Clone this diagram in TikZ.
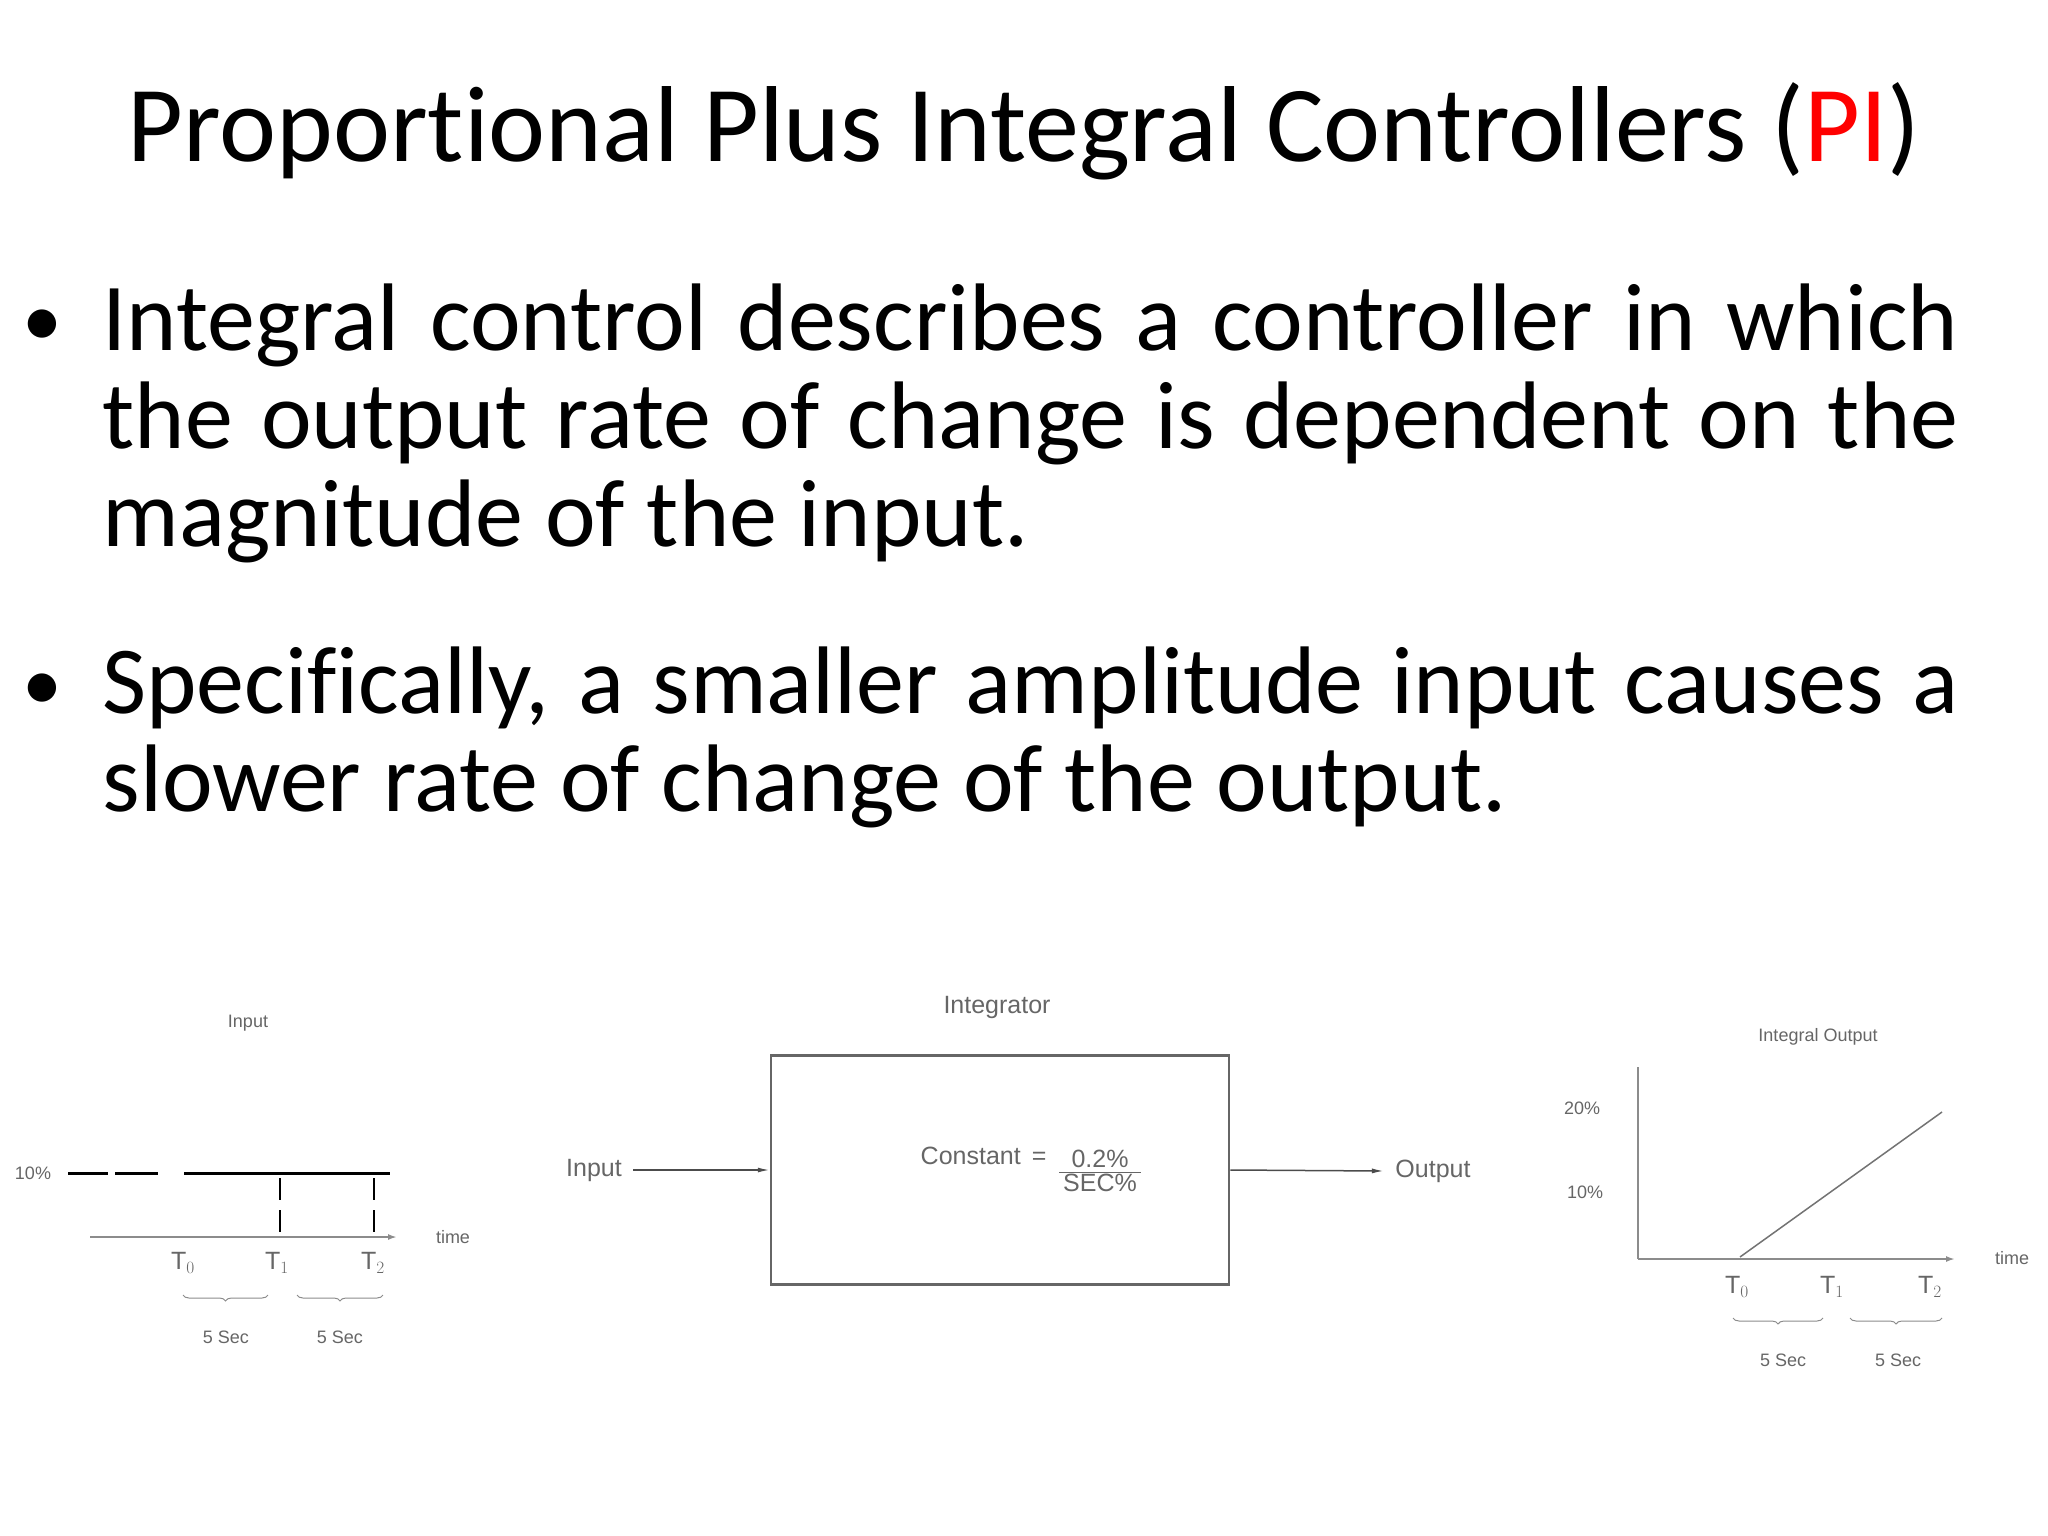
\documentclass[tikz,border=0pt]{standalone}
\usepackage{fontspec}
\setmainfont{Carlito}[Ligatures=NoCommon]
\newfontfamily\cadfont{Liberation Sans}
\usetikzlibrary{arrows.meta,decorations.pathreplacing}
\tikzset{
  cad/.style={font=\cadfont\fontsize{25}{27}\selectfont, text=black!60},
  smallcad/.style={font=\cadfont\fontsize{18}{20}\selectfont, text=black!60},
  axis/.style={draw=black!45, line width=2.5pt, -{Latex[length=9pt,width=6pt]}},
  brace/.style={draw=black!45, line width=1pt, decorate, decoration={brace,mirror,amplitude=6pt}},
  para/.style={anchor=north west, text width=1856pt, align=justify, font=\fontsize{96}{98}\selectfont}
}
\begin{document}
\begin{tikzpicture}[x=1pt,y=-1pt]
\useasboundingbox (0,0) rectangle (2048,1536);

% Title
\node (title) at (1024,131) {\fontsize{108}{120}\selectfont Proportional Plus Integral Controllers (\textcolor{red}{PI})};

% Bullets
\node (b1) at (42,328) {\fontsize{80}{90}\selectfont\textbullet};
\node [para] (p1) at (99,280) {Integral control describes a controller in which the output rate of change is dependent on the magnitude of the input.};
\node (b2) at (42,692) {\fontsize{80}{90}\selectfont\textbullet};
\node [para] (p2) at (99,643) {Specifically, a smaller amplitude input causes a slower rate of change of the output.};

% Input graph
\node [smallcad] (intitle) at (248,1023) {Input};
\node [smallcad] (inlevel) at (33,1173) {10\%};
\draw [line width=3pt] (68,1173) -- (108,1173) (115,1173) -- (158,1173) (184,1173) -- (390,1173);
\coordinate (inO) at (90,1237);
\coordinate (inE) at (397,1237);
\draw [axis] (inO) -- (inE);
\node [smallcad] (intime) at (453,1237) {time};
\draw [line width=2pt, dash pattern=on 22pt off 10pt] (280,1178) -- (280,1235) (374,1178) -- (374,1235);
\node [cad] (inT0) at (183,1263) {T$_0$};
\node [cad] (inT1) at (277,1263) {T$_1$};
\node [cad] (inT2) at (373,1263) {T$_2$};
\draw [brace] (183,1295) -- (268,1295);
\draw [brace] (297,1295) -- (383,1295);
\node [smallcad] (ins1) at (226,1337) {5 Sec};
\node [smallcad] (ins2) at (340,1337) {5 Sec};

% Integrator block
\node [cad] (integ) at (997,1007) {Integrator};
\node [draw=black!60, line width=2.5pt, minimum width=458pt, minimum height=229pt] (block) at (1000,1170) {};
\node [cad] (inlbl) at (594,1170) {Input};
\node [cad, anchor=east] (const) at (1050,1156) {Constant \,=};
\node [cad, inner sep=0pt] (frac) at (1100,1174) {\begin{tabular}{@{\,}c@{\,}}0.2\%\\[-3pt]\hline SEC\%\end{tabular}};
\node [cad] (outlbl) at (1433,1171) {Output};
\draw [line width=1.5pt, draw=black!70, -{Latex[length=12pt,width=5pt]}] (inlbl.east) ++(8,0) -- (block.west);
\draw [line width=1.5pt, draw=black!70, -{Latex[length=12pt,width=5pt]}] (block.east) -- ([xshift=-8pt]outlbl.west);

% Output graph
\node [smallcad] (outtitle) at (1818,1037) {Integral Output};
\coordinate (outO) at (1638,1259);
\coordinate (outE) at (1955,1259);
\coordinate (outY) at (1638,1067);
\draw [axis, -] (outY) -- (outO);
\draw [axis] (outO) -- (outE);
\node [smallcad] (out20) at (1582,1108) {20\%};
\node [smallcad] (out10) at (1585,1192) {10\%};
\node [smallcad] (outtime) at (2012,1258) {time};
\draw [line width=1.5pt, draw=black!55] (1740,1257) -- (1942,1112);
\node [cad] (outT0) at (1737,1287) {T$_0$};
\node [cad] (outT1) at (1832,1287) {T$_1$};
\node [cad] (outT2) at (1930,1287) {T$_2$};
\draw [brace] (1733,1318) -- (1823,1318);
\draw [brace] (1850,1318) -- (1942,1318);
\node [smallcad] (outs1) at (1783,1360) {5 Sec};
\node [smallcad] (outs2) at (1898,1360) {5 Sec};

\end{tikzpicture}
\end{document}
